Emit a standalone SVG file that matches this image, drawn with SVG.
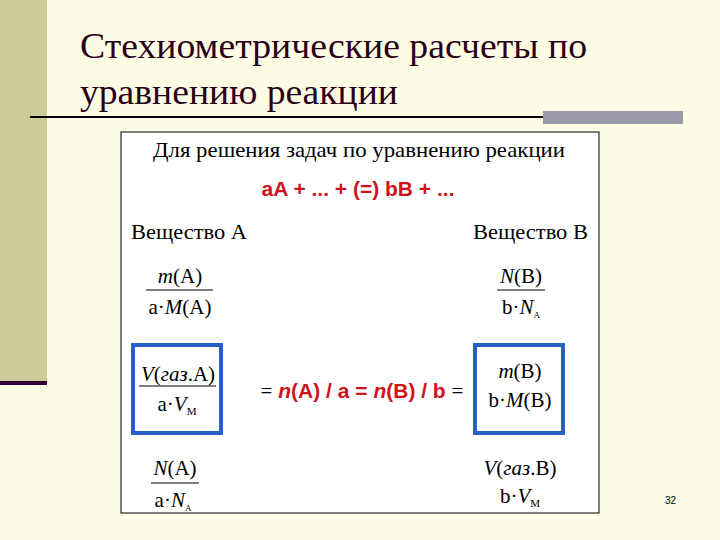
<svg xmlns="http://www.w3.org/2000/svg" width="720" height="540" viewBox="0 0 720 540">
<style>
.r{font-family:"Liberation Sans",sans-serif;fill:#d0121b;font-weight:bold;font-size:21px}
.f{font-family:"Liberation Serif","Times New Roman","DejaVu Serif",serif;font-size:21px;fill:#000}
.i{font-style:italic}
.ln{stroke:#000;stroke-width:1.2}
.bx{fill:none;stroke:#2a5fc8;stroke-width:4}
</style>
<rect width="720" height="540" fill="#fdfde6"/>
<rect x="0" y="0" width="47" height="383" fill="#cccc99"/>
<rect x="0" y="381" width="47" height="4" fill="#330033"/>
<line x1="30" y1="117" x2="545" y2="117" stroke="#000" stroke-width="2"/>
<rect x="543" y="111" width="140" height="13" fill="#9999aa"/>
<g id="title" font-family="Liberation Serif, Times New Roman, DejaVu Serif, serif" font-size="36" fill="#2a0018">
<text x="80" y="58" textLength="507" lengthAdjust="spacingAndGlyphs">Стехиометрические расчеты по</text>
<text x="80" y="104" textLength="318" lengthAdjust="spacingAndGlyphs">уравнению реакции</text>
</g>
<rect x="121" y="132" width="478" height="381" fill="#fff" stroke="#000" stroke-width="1"/>
<g id="header">
<text class="f" x="359" y="157" text-anchor="middle" textLength="412" lengthAdjust="spacingAndGlyphs">Для решения задач по уравнению реакции</text>
<text class="r" x="358" y="196" text-anchor="middle">aA + ... + (=) bB + ...</text>
<text class="f" x="131" y="239" textLength="116" lengthAdjust="spacingAndGlyphs">Вещество A</text>
<text class="f" x="588" y="239" text-anchor="end" textLength="115" lengthAdjust="spacingAndGlyphs">Вещество B</text>
</g>
<g id="fracA1">
<text class="f" x="180" y="283" text-anchor="middle"><tspan class="i">m</tspan>(A)</text>
<line class="ln" x1="146" y1="290" x2="213" y2="290"/>
<text class="f" x="180" y="314" text-anchor="middle">a·<tspan class="i">M</tspan>(A)</text>
</g>
<g id="fracB1">
<text class="f" x="521" y="283" text-anchor="middle"><tspan class="i">N</tspan>(B)</text>
<line class="ln" x1="497" y1="290" x2="545" y2="290"/>
<text class="f" x="521" y="314" text-anchor="middle">b·<tspan class="i">N</tspan><tspan font-size="9" dy="4">A</tspan></text>
</g>
<g id="boxA">
<rect class="bx" x="133" y="345" width="88" height="88"/>
<text class="f" x="178" y="381" text-anchor="middle"><tspan class="i">V</tspan>(<tspan class="i">газ</tspan>.A)</text>
<line class="ln" x1="139" y1="386" x2="216" y2="386"/>
<text class="f" x="177" y="411" text-anchor="middle">a·<tspan class="i">V</tspan><tspan font-size="11" dy="4">M</tspan></text>
</g>
<g id="center">
<text class="r" x="362" y="398" text-anchor="middle"><tspan font-family="Liberation Serif" font-weight="normal" fill="#000">=</tspan> <tspan class="i">n</tspan>(A) / a = <tspan class="i">n</tspan>(B) / b <tspan font-family="Liberation Serif" font-weight="normal" fill="#000">=</tspan></text>
</g>
<g id="boxB">
<rect class="bx" x="475" y="345" width="88" height="88"/>
<text class="f" x="520" y="378" text-anchor="middle"><tspan class="i">m</tspan>(B)</text>
<text class="f" x="520" y="407" text-anchor="middle">b·<tspan class="i">M</tspan>(B)</text>
</g>
<g id="fracA2">
<text class="f" x="175" y="475" text-anchor="middle"><tspan class="i">N</tspan>(A)</text>
<line class="ln" x1="151" y1="483" x2="199" y2="483"/>
<text class="f" x="173" y="507" text-anchor="middle">a·<tspan class="i">N</tspan><tspan font-size="9" dy="4">A</tspan></text>
</g>
<g id="fracB2">
<text class="f" x="520" y="475" text-anchor="middle"><tspan class="i">V</tspan>(<tspan class="i">газ</tspan>.B)</text>
<text class="f" x="520" y="503" text-anchor="middle">b·<tspan class="i">V</tspan><tspan font-size="11" dy="4">M</tspan></text>
</g>
<text x="676" y="504" font-family="Liberation Sans,sans-serif" font-size="10" text-anchor="end">32</text>
</svg>
